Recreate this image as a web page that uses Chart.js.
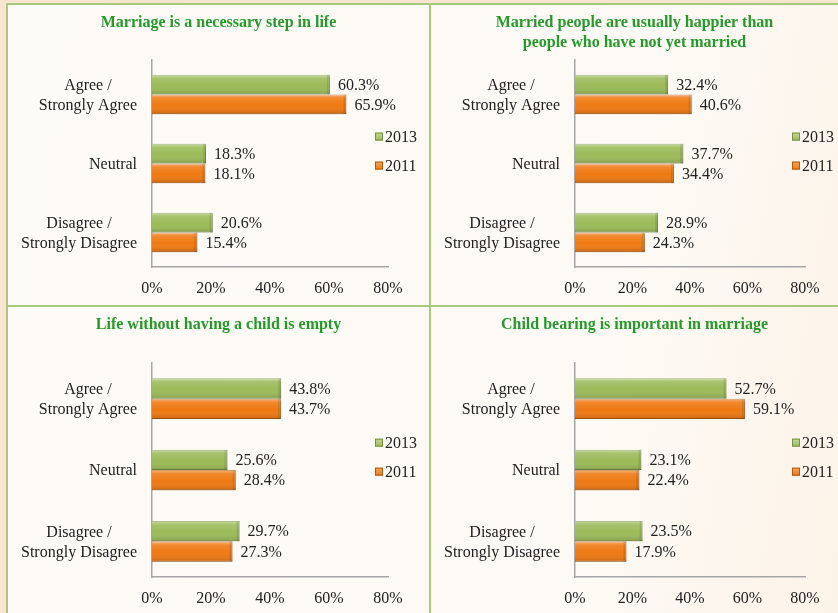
<!DOCTYPE html>
<html lang="en">
<head>
<meta charset="UTF-8">
<title>Attitudes to marriage and children, 2011 vs 2013</title>
<script src="https://cdn.jsdelivr.net/npm/chart.js"></script>
<style>
  body { margin: 0; width: 838px; height: 613px; overflow: hidden; background: #f7e5cf; position: relative; }
  #frame { position: absolute; left: 6px; top: 3px; width: 832px; height: 610px; box-sizing: border-box;
           background: linear-gradient(100deg, #fdfbf7 0%, #fdfaf5 70%, #fcf3e8 100%);
           border-left: 2px solid #a8c87a; border-top: 2px solid #a8c87a; }
  .vline { position: absolute; left: 429px; top: 3px; width: 2px; height: 610px; background: #a8c87a; }
  .hline { position: absolute; left: 6px; top: 305px; width: 832px; height: 2px; background: #a8c87a; }
  .panel { position: absolute; }
  .panel canvas { display: block; }
</style>
</head>
<body>
<div id="frame"></div>
<div class="vline"></div>
<div class="hline"></div>
<div class="panel" style="left:8px;top:5px"><canvas id="c1" width="421" height="300"></canvas></div>
<div class="panel" style="left:431px;top:5px"><canvas id="c2" width="407" height="300"></canvas></div>
<div class="panel" style="left:8px;top:307px"><canvas id="c3" width="421" height="306"></canvas></div>
<div class="panel" style="left:431px;top:307px"><canvas id="c4" width="407" height="306"></canvas></div>

<script>
// categories and series (percent)
const categories = [['Agree /', 'Strongly Agree'], ['Neutral'], ['Disagree /', 'Strongly Disagree']];
const seriesNames = ['2013', '2011'];
const xTicks = [0, 20, 40, 60, 80];

const title1 = ['Marriage is a necessary step in life'];
const necessary2013 = [60.3, 18.3, 20.6];
const necessary2011 = [65.9, 18.1, 15.4];

const title2 = ['Married people are usually happier than', 'people who have not yet married'];
const happier2013 = [32.4, 37.7, 28.9];
const happier2011 = [40.6, 34.4, 24.3];

const title3 = ['Life without having a child is empty'];
const childless2013 = [43.8, 25.6, 29.7];
const childless2011 = [43.7, 28.4, 27.3];

const title4 = ['Child bearing is important in marriage'];
const bearing2013 = [52.7, 23.1, 23.5];
const bearing2011 = [59.1, 22.4, 17.9];

const SERIF = '"Liberation Serif", "Times New Roman", serif';
const GREEN = '#9bbb59', GREEN_EDGE = '#76933c';
const ORANGE = '#ef7912', ORANGE_EDGE = '#b45a0c';

// titles, category labels, value labels, legend and bar bevel
const decor = {
  id: 'decor',
  afterDatasetsDraw(chart) {
    const ctx = chart.ctx;
    chart.data.datasets.forEach((ds, di) => {
      chart.getDatasetMeta(di).data.forEach((el, i) => {
        const p = el.getProps(['x', 'y', 'base', 'height'], true);
        const top = p.y - p.height / 2, left = Math.min(p.base, p.x), w = Math.abs(p.x - p.base);
        const g = ctx.createLinearGradient(0, top, 0, top + p.height);
        g.addColorStop(0, 'rgba(255,255,255,0.45)');
        g.addColorStop(0.18, 'rgba(255,255,255,0.12)');
        g.addColorStop(0.55, 'rgba(255,255,255,0)');
        g.addColorStop(1, 'rgba(0,0,0,0.16)');
        ctx.save();
        ctx.fillStyle = g;
        ctx.fillRect(left, top, w, p.height);
        ctx.fillStyle = 'rgba(0,0,0,0.10)';
        ctx.fillRect(left + w - 3, top, 3, p.height);
        ctx.restore();
        ctx.save();
        ctx.font = '16px ' + SERIF;
        ctx.fillStyle = '#222';
        ctx.textAlign = 'left';
        ctx.textBaseline = 'middle';
        ctx.fillText(ds.data[i].toFixed(1) + '%', p.x + 8, p.y + 1);
        ctx.restore();
      });
    });
  },
  afterDraw(chart) {
    const ctx = chart.ctx, area = chart.chartArea, cfg = chart.options.plugins.decor;
    const yScale = chart.scales.y;
    ctx.save();
    // title
    ctx.font = 'bold 16px ' + SERIF;
    ctx.fillStyle = '#27992a';
    ctx.textAlign = 'center';
    ctx.textBaseline = 'middle';
    cfg.title.forEach((line, k) => ctx.fillText(line, chart.width / 2, 18 + k * 20));
    // category labels: block right-aligned, lines centred
    ctx.font = '16px ' + SERIF;
    ctx.fillStyle = '#222';
    chart.data.labels.forEach((lab, i) => {
      const lines = Array.isArray(lab) ? lab : [lab];
      const bw = Math.max(...lines.map(l => ctx.measureText(l).width));
      const cx = area.left - 15 - bw / 2;
      const cy = yScale.getPixelForTick(i) + 1;
      lines.forEach((l, k) => ctx.fillText(l, cx, cy + (k - (lines.length - 1) / 2) * 20));
    });
    // legend
    const midY = area.top + (area.bottom - area.top) * 0.44;
    chart.data.datasets.forEach((ds, di) => {
      const y = midY + (di - 0.5) * 29;
      const x = area.right - 13;
      const g = ctx.createLinearGradient(0, y - 4, 0, y + 4);
      g.addColorStop(0, di === 0 ? '#c3d89a' : '#f7a55c');
      g.addColorStop(1, ds.backgroundColor);
      ctx.fillStyle = g;
      ctx.fillRect(x, y - 4, 8, 8);
      ctx.strokeStyle = ds.borderColor;
      ctx.lineWidth = 1;
      ctx.strokeRect(x + 0.5, y - 3.5, 7, 7);
      ctx.fillStyle = '#222';
      ctx.textAlign = 'left';
      ctx.fillText(ds.label, x + 10, y + 1);
    });
    ctx.restore();
  }
};

function makePanel(id, title, d2013, d2011, box) {
  const canvas = document.getElementById(id);
  const W = canvas.width, H = canvas.height;
  const tickFont = { family: SERIF, size: 16 };
  new Chart(canvas, {
    type: 'bar',
    data: {
      labels: categories,
      datasets: [
        { label: seriesNames[0], data: d2013, backgroundColor: GREEN, borderColor: GREEN_EDGE, borderWidth: 1 },
        { label: seriesNames[1], data: d2011, backgroundColor: ORANGE, borderColor: ORANGE_EDGE, borderWidth: 1 }
      ]
    },
    options: {
      indexAxis: 'y',
      responsive: false,
      animation: false,
      events: [],
      layout: { padding: { top: box.top, right: W - box.right, bottom: 0, left: 0 } },
      datasets: { bar: { categoryPercentage: 0.57, barPercentage: 1 } },
      plugins: {
        legend: { display: false },
        title: { display: false },
        tooltip: { enabled: false },
        decor: { title: title }
      },
      scales: {
        x: {
          min: xTicks[0], max: xTicks[xTicks.length - 1],
          afterBuildTicks(s) { s.ticks = xTicks.map(v => ({ value: v })); },
          ticks: { callback: v => v + '%', font: tickFont, color: '#222', padding: 4 },
          grid: { display: false },
          border: { color: '#a6a6a6', width: 1.5 },
          afterFit(s) { s.height = H - box.bottom; }
        },
        y: {
          ticks: { display: false },
          grid: { display: false },
          border: { color: '#a6a6a6', width: 1.5 },
          afterFit(s) { s.width = box.left; }
        }
      }
    },
    plugins: [decor]
  });
}

makePanel('c1', title1, necessary2013, necessary2011, { left: 144, right: 380, top: 55, bottom: 262 });
makePanel('c2', title2, happier2013, happier2011, { left: 144, right: 374, top: 55, bottom: 262 });
makePanel('c3', title3, childless2013, childless2011, { left: 144, right: 380, top: 56, bottom: 270 });
makePanel('c4', title4, bearing2013, bearing2011, { left: 144, right: 374, top: 56, bottom: 270 });
</script>
</body>
</html>
